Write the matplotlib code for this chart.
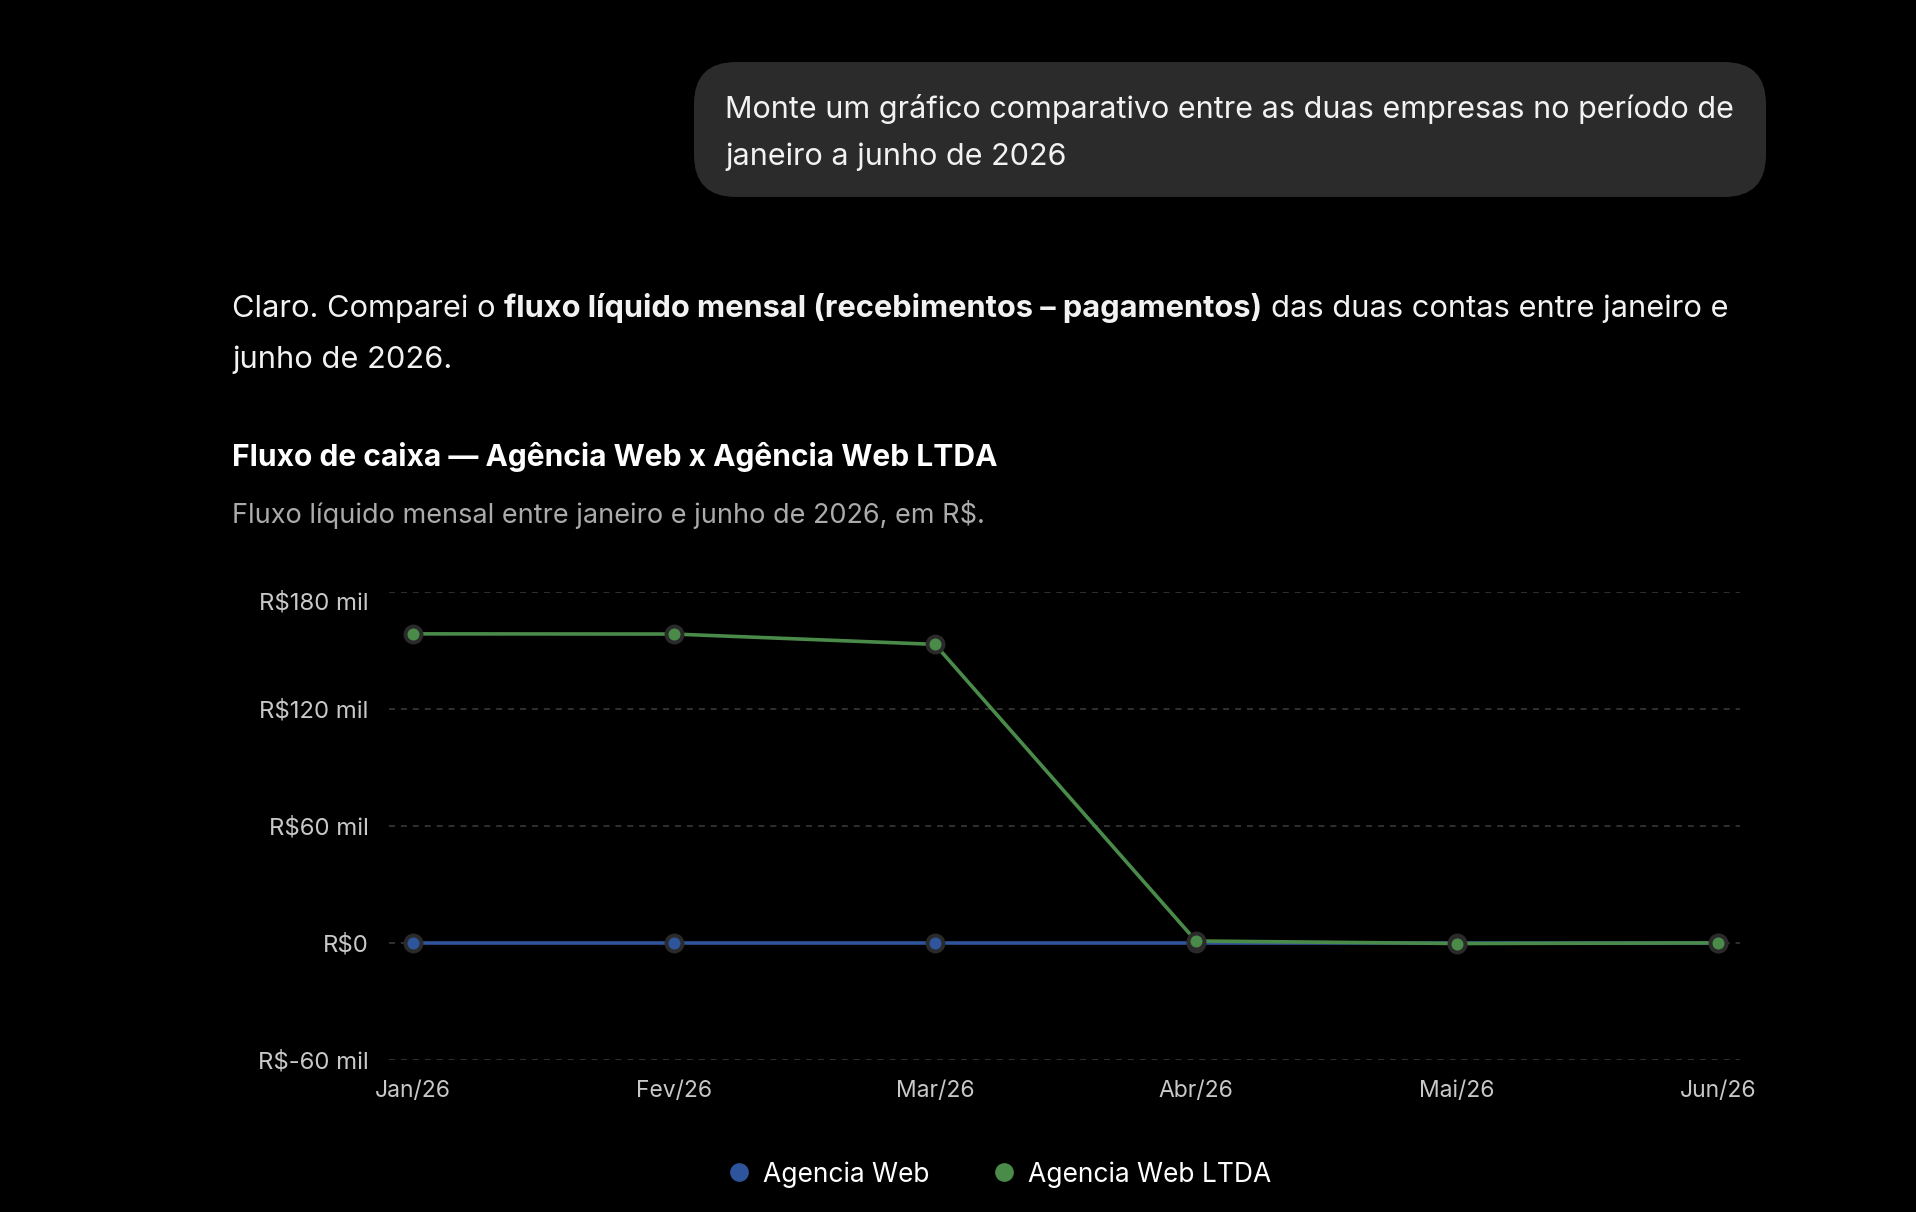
import matplotlib
matplotlib.use('Agg')
import matplotlib.pyplot as plt
from matplotlib.patches import FancyBboxPatch
from matplotlib.lines import Line2D
from matplotlib.transforms import IdentityTransform, ScaledTranslation

W, H = 1916, 1212

meses = ['Jan/26', 'Fev/26', 'Mar/26', 'Abr/26', 'Mai/26', 'Jun/26']
agencia_web = [0, 0, 0, 0, 0, 0]                      # mil R$
agencia_web_ltda = [158.4, 158.3, 153.0, 1.0, -0.3, 0.0]  # mil R$
yticks = [-60, 0, 60, 120, 180]
ytick_labels = ['R$-60 mil', 'R$0', 'R$60 mil', 'R$120 mil', 'R$180 mil']

AZUL = '#2e559b'
VERDE = '#4a8b4a'
BORDA = '#2a2a2a'

plt.rcParams['font.family'] = ['Inter', 'DejaVu Sans']

fig = plt.figure(figsize=(W / 100, H / 100), dpi=100, facecolor='black')


def fy(y):
    return 1 - y / H


# balão da pergunta
bolha = FancyBboxPatch((694, H - 197), 1072, 135,
                       boxstyle='round,pad=0,rounding_size=42',
                       transform=IdentityTransform(), facecolor='#2b2b2b',
                       edgecolor='none')
fig.patches.append(bolha)
fig.text(725 / W, fy(118), 'Monte um gráfico comparativo entre as duas empresas no período de',
         color='#f2f2f2', fontsize=22, va='baseline')
fig.text(725 / W, fy(165), 'janeiro a junho de 2026', color='#f2f2f2', fontsize=22, va='baseline')

# parágrafo com trecho em negrito
renderer = fig.canvas.get_renderer()


def largura(s, **kw):
    t = fig.text(0, 0, s, **kw)
    w = t.get_window_extent(renderer).width
    t.remove()
    return w


FS = 22.2
espaco = largura('a a', fontsize=FS) - largura('aa', fontsize=FS)
partes = [('Claro. Comparei o', 'normal'),
          ('fluxo líquido mensal (recebimentos – pagamentos)', 'bold'),
          ('das duas contas entre janeiro e', 'normal')]
x = 232
for txt, peso in partes:
    fig.text(x / W, fy(317), txt, color='#f2f2f2', fontsize=FS, fontweight=peso, va='baseline')
    x += largura(txt, fontsize=FS, fontweight=peso) + espaco
fig.text(232 / W, fy(368), 'junho de 2026.', color='#f2f2f2', fontsize=FS, va='baseline')

fig.text(232 / W, fy(466), 'Fluxo de caixa — Agência Web x Agência Web LTDA',
         color='white', fontsize=21.6, fontweight='bold', va='baseline')
fig.text(232 / W, fy(523), 'Fluxo líquido mensal entre janeiro e junho de 2026, em R$.',
         color='#ababab', fontsize=19.5, va='baseline')

# gráfico
x0, x1 = 389, 1740
y_top, y_bot = 591.7, 1060
ax = fig.add_axes([x0 / W, 1 - y_bot / H, (x1 - x0) / W, (y_bot - y_top) / H])
ax.set_facecolor('black')
xs = list(range(len(meses)))
passo = (1718 - 413) / 5
ax.set_xlim(-(413 - x0) / passo, 5 + (x1 - 1718) / passo)
ax.set_ylim(-60, 180)

ax.plot(xs, agencia_web, color=AZUL, lw=2.6, marker='o', ms=11.5, mfc=AZUL,
        mec=BORDA, mew=2.8, clip_on=False, zorder=3)
ax.plot(xs, agencia_web_ltda, color=VERDE, lw=2.6, marker='o', ms=11.5, mfc=VERDE,
        mec=BORDA, mew=2.8, clip_on=False, zorder=4)

ax.set_yticks(yticks)
ax.set_yticklabels(ytick_labels)
ax.set_xticks(xs)
ax.set_xticklabels(meses)
ax.tick_params(axis='y', length=0, labelsize=17.2, labelcolor='#c8c8c8', pad=14.5)
ax.tick_params(axis='x', length=0, labelsize=16.5, labelcolor='#c8c8c8', pad=14.5)
# rótulo do topo fica um pouco abaixo da linha
topo = ax.yaxis.get_major_ticks()[-1].label1
topo.set_transform(topo.get_transform() + ScaledTranslation(0, -9 / 100, fig.dpi_scale_trans))
ax.grid(axis='y', color='#3d3d3d', lw=1.1, linestyle=(0, (3.9, 3.9)))
ax.set_axisbelow(True)
for s in ax.spines.values():
    s.set_visible(False)

# legenda
for cx, tx, cor, nome in [(739, 763, AZUL, 'Agencia Web'), (1004, 1028, VERDE, 'Agencia Web LTDA')]:
    fig.add_artist(Line2D([cx / W], [fy(1172)], marker='o', ms=13.5, color=cor,
                          mec='none', transform=fig.transFigure))
    fig.text(tx / W, fy(1181.5), nome, color='white', fontsize=19, va='baseline')

fig.savefig('out.png', dpi=100, facecolor='black')
